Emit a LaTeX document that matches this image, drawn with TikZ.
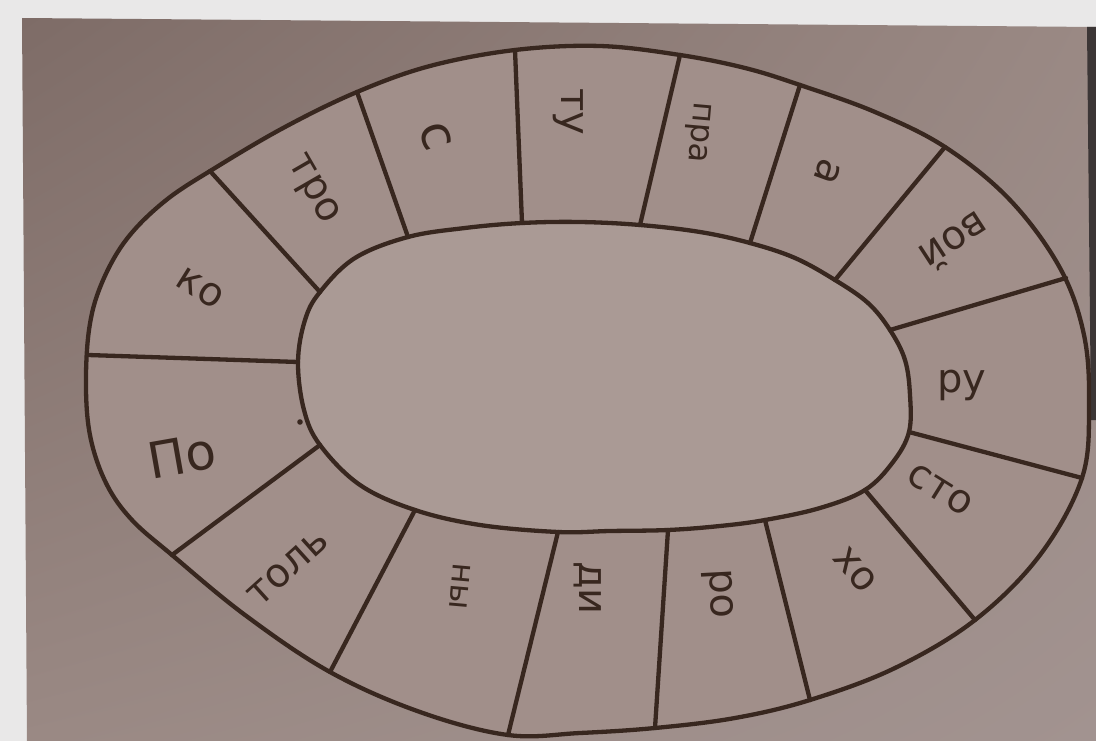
\documentclass[tikz,border=0pt]{standalone}
\usepackage{fontspec}
\setmainfont{DejaVu Sans}
\usetikzlibrary{shadings}
\definecolor{bgwhite}{HTML}{E9E8E8}
\definecolor{paperA}{HTML}{7E6C67}
\definecolor{paperB}{HTML}{9A8984}
\definecolor{paperC}{HTML}{A29390}
\definecolor{cellcol}{HTML}{A18F8A}
\definecolor{innercol}{HTML}{AA9A95}
\definecolor{ink}{HTML}{38271F}
\definecolor{shadowcol}{HTML}{3C3636}
\tikzset{
  ringline/.style={draw=ink, line width=4.3pt, line join=round, line cap=round},
  lbl/.style={font=\fontsize{40}{40}\selectfont, text=ink, inner sep=0pt},
  biglbl/.style={font=\fontsize{50}{50}\selectfont, text=ink, inner sep=0pt},
  smalllbl/.style={font=\fontsize{32}{32}\selectfont, text=ink, inner sep=0pt}
}
\begin{document}
\begin{tikzpicture}[x=1pt,y=-1pt]
\useasboundingbox (0,0) rectangle (1096,741);
\fill[bgwhite] (0,0) rectangle (1096,741);
% paper
\shade[upper left=paperA, upper right=paperB, lower left=paperB, lower right=paperC]
  (22,18) -- (1096,27) -- (1096,741) -- (27,741) -- cycle;
\fill[shadowcol] (1087,27) -- (1096,27) -- (1096,420) -- (1091,420) -- cycle;

% outer boundary
\draw[ringline, fill=cellcol] plot[smooth cycle, tension=0.6] coordinates {
 (86,390) (89,330) (101,285) (126,240) (165,201) (215,168) (285,127) (357,92) (430,66)
 (515,50) (600,46) (680,55) (745,68) (800,85) (875,112) (945,147) (1010,200)
 (1060,268) (1084,335) (1089,405) (1082,478) (1040,555) (975,620) (895,668)
 (810,700) (735,718) (655,728) (580,733) (508,735) (420,712) (330,672)
 (245,615) (172,555) (132,520) (107,485) (91,440)};

% inner oval
\draw[ringline, fill=innercol] plot[smooth cycle, tension=0.6] coordinates {
 (298,362) (305,320) (320,292) (355,258) (408,237) (465,228) (522,223) (580,222)
 (640,225) (700,232) (750,243) (795,258) (835,280) (868,303) (890,330) (905,360)
 (910,395) (909,432) (893,462) (865,490) (820,508) (765,520) (720,526) (668,530)
 (610,531) (558,532) (480,525) (415,510) (360,485) (320,445) (304,410)};

% divider end points
\coordinate (o1) at (88,355);   \coordinate (i1) at (298,362);
\coordinate (o2) at (210,171);  \coordinate (i2) at (320,292);
\coordinate (o3) at (357,92);   \coordinate (i3) at (408,237);
\coordinate (o4) at (515,50);   \coordinate (i4) at (522,223);
\coordinate (o5) at (680,55);   \coordinate (i5) at (640,225);
\coordinate (o6) at (800,85);   \coordinate (i6) at (750,243);
\coordinate (o7) at (945,147);  \coordinate (i7) at (835,280);
\coordinate (o8) at (1066,278); \coordinate (i8) at (890,330);
\coordinate (o9) at (1082,478); \coordinate (i9) at (909,432);
\coordinate (o10) at (975,620); \coordinate (i10) at (865,490);
\coordinate (o11) at (810,700); \coordinate (i11) at (765,520);
\coordinate (o12) at (655,728); \coordinate (i12) at (668,530);
\coordinate (o13) at (508,735); \coordinate (i13) at (558,532);
\coordinate (o14) at (330,672); \coordinate (i14) at (415,510);
\coordinate (o15) at (172,555); \coordinate (i15) at (320,445);
\foreach \k in {1,...,15} \draw[ringline] (o\k) -- (i\k);

% stray dot
\fill[ink] (300,422) circle (2.8pt);

% labels
\node[biglbl, rotate=10]  (l1)  at (182,456) {По};
\node[lbl, rotate=-32]    (l2)  at (200,288) {ко};
\node[lbl, rotate=-60]    (l3)  at (312,190) {тро};
\node[biglbl, rotate=-72] (l4)  at (436,136) {с};
\node[lbl, rotate=-90]    (l5)  at (568,112) {ту};
\node[smalllbl, rotate=-95] (l6) at (697,132) {пра};
\node[lbl, rotate=-110]   (l7)  at (828,172) {а};
\node[lbl, rotate=-147]   (l8)  at (955,242) {вой};
\node[lbl, rotate=0]      (l9)  at (962,385) {ру};
\node[lbl, rotate=-32]    (l10) at (940,490) {сто};
\node[lbl, rotate=-50]    (l11) at (855,570) {хо};
\node[lbl, rotate=-87]    (l12) at (718,594) {ро};
\node[lbl, rotate=-90]    (l13) at (588,588) {ди};
\node[smalllbl, rotate=-95] (l14) at (460,586) {ны};
\node[lbl, rotate=42]     (l15) at (288,568) {толь};
\end{tikzpicture}
\end{document}
